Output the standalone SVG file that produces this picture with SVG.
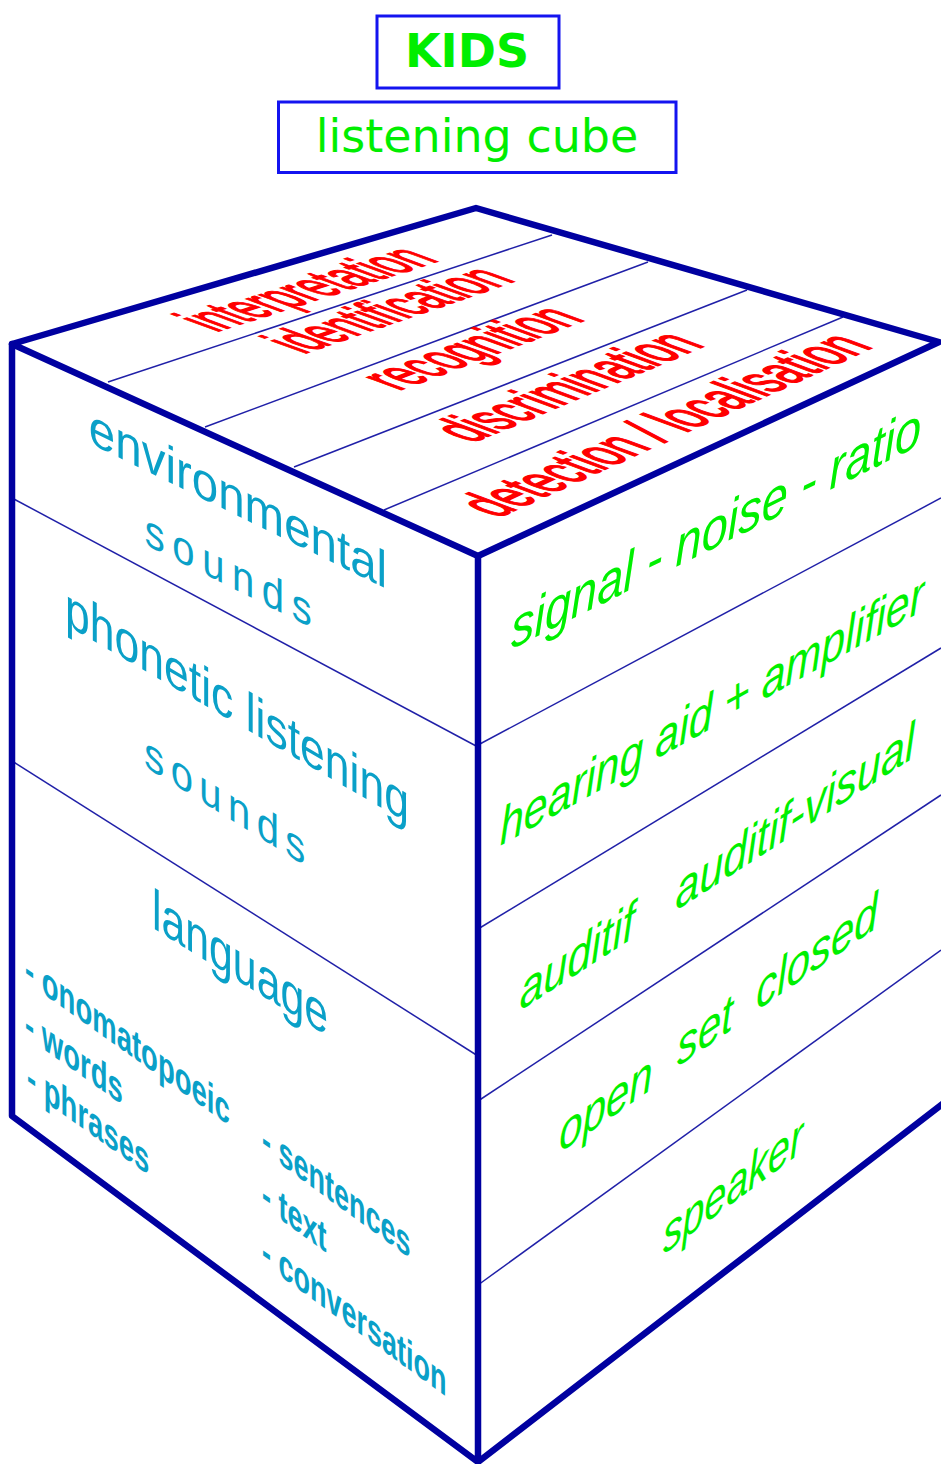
<svg xmlns="http://www.w3.org/2000/svg" width="941" height="1464" viewBox="0 0 941 1464">
<style>
.edge{fill:none;stroke:#0000a0;stroke-width:6.5;stroke-linejoin:round;stroke-linecap:round}
.div{fill:none;stroke:#2020a8;stroke-width:1.5}
.box{fill:none;stroke:#1414f0;stroke-width:3}
.title{font-family:"DejaVu Sans",sans-serif;fill:#00ee00;text-anchor:middle}
.top{font-family:"Liberation Sans",Arial,sans-serif;font-size:100px;fill:#ff0000;stroke:#ff0000;stroke-width:3;text-anchor:middle}
.lft{font-family:"Liberation Sans",Arial,sans-serif;font-size:100px;fill:#0aa0c8;text-anchor:middle}
.lst{font-family:"Liberation Sans",Arial,sans-serif;font-size:100px;font-weight:bold;fill:#0aa0c8;text-anchor:start}
.rgt{font-family:"Liberation Sans",Arial,sans-serif;font-size:100px;font-style:italic;fill:#00f000;text-anchor:middle}
</style>
<rect width="941" height="1464" fill="#ffffff"/>
<g id="title-kids">
<rect class="box" x="377" y="16" width="182" height="72"/>
<text class="title" x="467" y="67" font-size="46" font-weight="bold">KIDS</text>
</g>
<g id="title-cube">
<rect class="box" x="278.5" y="102" width="397.5" height="70.5"/>
<text class="title" x="477" y="152" font-size="46">listening cube</text>
</g>
<g id="top-face">
<line class="div" x1="108" y1="382" x2="552" y2="235"/>
<line class="div" x1="205" y1="427" x2="648" y2="262"/>
<line class="div" x1="294" y1="467" x2="747" y2="290"/>
<line class="div" x1="384" y1="510" x2="843" y2="317"/>
<text class="top" transform="matrix(0.3848,-0.1224,0.650,0.238,328,296.5)">interpretation</text>
<text class="top" transform="matrix(0.3844,-0.1322,0.650,0.2348,410,317.5)">identification</text>
<text class="top" transform="matrix(0.3839,-0.1454,0.650,0.2374,492.5,355.5)">recognition</text>
<text class="top" transform="matrix(0.3834,-0.1598,0.650,0.2387,589,394.5)">discrimination</text>
<text class="top" transform="matrix(0.3828,-0.1739,0.650,0.2394,686,432.6)">detection / localisation</text>
</g>
<g id="left-face">
<line class="div" x1="12" y1="498" x2="478" y2="747"/>
<line class="div" x1="12" y1="761" x2="478" y2="1056"/>
<text class="lft" transform="matrix(0.475,0.233,0,0.52,238,516)">environmental</text>
<text class="lft" letter-spacing="19" transform="matrix(0.40,0.20,0,0.46,232,588)">sounds</text>
<text class="lft" transform="matrix(0.445,0.258,0,0.55,237,724)">phonetic listening</text>
<text class="lft" letter-spacing="16" transform="matrix(0.40,0.248,0,0.46,228,818)">sounds</text>
<text class="lft" transform="matrix(0.428,0.265,0,0.57,240,982)">language</text>
<text class="lst" transform="matrix(0.275,0.195,0,0.42,25,981)">- onomatopoeic</text>
<text class="lst" transform="matrix(0.275,0.195,0,0.42,25,1036)">- words</text>
<text class="lst" transform="matrix(0.275,0.195,0,0.42,27,1089)">- phrases</text>
<text class="lst" transform="matrix(0.27,0.196,0,0.42,262,1151)">- sentences</text>
<text class="lst" transform="matrix(0.27,0.196,0,0.42,262,1206)">- text</text>
<text class="lst" transform="matrix(0.27,0.196,0,0.42,262,1263)">- conversation</text>
</g>
<g id="right-face">
<line class="div" x1="478" y1="745" x2="941" y2="498"/>
<line class="div" x1="478" y1="929" x2="941" y2="648"/>
<line class="div" x1="478" y1="1101" x2="941" y2="795"/>
<line class="div" x1="478" y1="1285" x2="941" y2="950"/>
<text class="rgt" transform="matrix(0.47,-0.235,0,0.56,716,547)">signal - noise - ratio</text>
<text class="rgt" transform="matrix(0.43,-0.239,0,0.52,712,728)">hearing aid + amplifier</text>
<text class="rgt" transform="matrix(0.43,-0.277,0,0.52,577,974)">auditif</text>
<text class="rgt" transform="matrix(0.43,-0.277,0,0.52,795,834)">auditif-visual</text>
<text class="rgt" transform="matrix(0.42,-0.29,0,0.52,606,1121)">open</text>
<text class="rgt" transform="matrix(0.42,-0.29,0,0.52,705,1048)">set</text>
<text class="rgt" transform="matrix(0.42,-0.29,0,0.52,817,969)">closed</text>
<text class="rgt" transform="matrix(0.394,-0.292,0,0.52,733,1203)">speaker</text>
</g>
<g id="cube-edges">
<path class="edge" d="M12,344 L476,208 L939,342 L478,556 Z"/>
<path class="edge" d="M12,344 L12,1116 L478,1462 L478,556"/>
<path class="edge" d="M478,1462 L945,1102"/>
</g>
</svg>
